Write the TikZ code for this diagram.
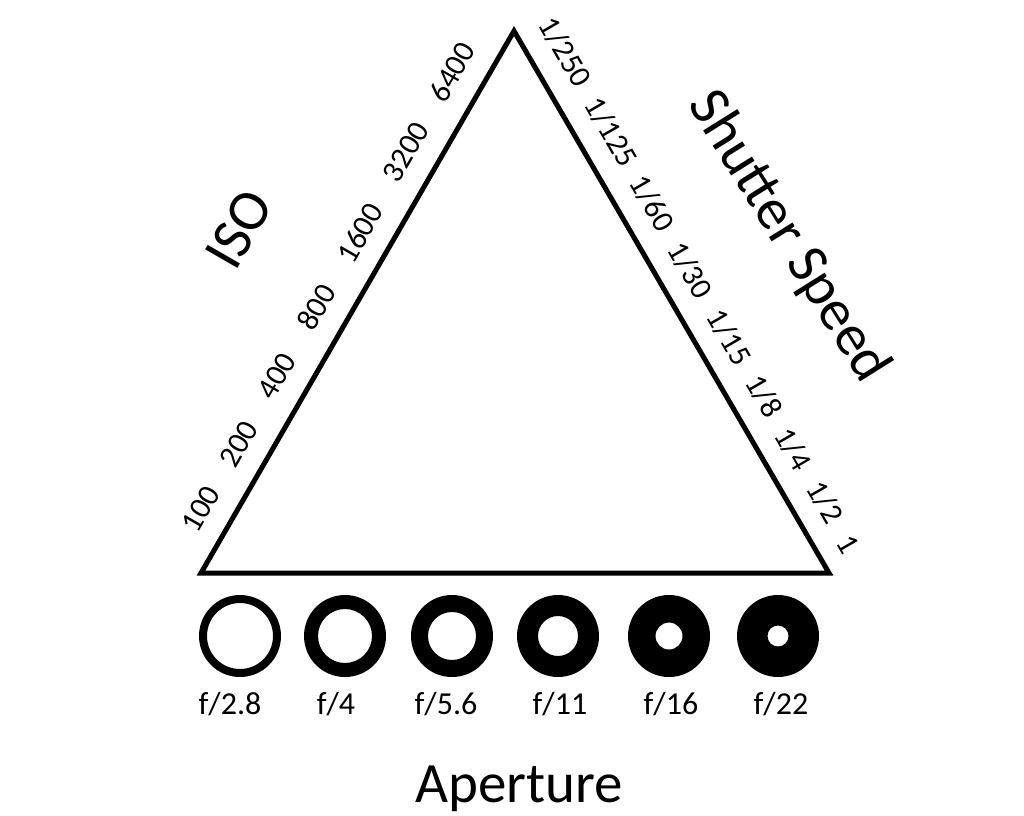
\documentclass[tikz,border=0pt]{standalone}
\usepackage{fontspec}
\setmainfont{Carlito}
\usetikzlibrary{calc}
\begin{document}
\begin{tikzpicture}[x=1pt,y=-1pt,
  edgelbl/.style={font=\fontsize{31}{31}\selectfont, inner sep=0pt, anchor=center},
  biglbl/.style={font=\fontsize{58}{58}\selectfont, inner sep=0pt, anchor=center},
  flbl/.style={font=\fontsize{32}{32}\selectfont, inner sep=0pt, anchor=base},
  tri/.style={line width=5pt, line join=miter, miter limit=10}]
\useasboundingbox[fill=white] (0,0) rectangle (1024,815);
\coordinate (T) at (514,31);
\coordinate (L) at (201,573);
\coordinate (R) at (829,573);
\draw[tri] (L) -- (T) -- (R) -- cycle;
% ISO values
\node[edgelbl, rotate=60] (i100) at (201,509) {100};
\node[edgelbl, rotate=60] (i200) at (239,444) {200};
\node[edgelbl, rotate=60] (i400) at (277,376) {400};
\node[edgelbl, rotate=60] (i800) at (316,307) {800};
\node[edgelbl, rotate=60] (i1600) at (360,233) {1600};
\node[edgelbl, rotate=60] (i3200) at (406,152) {3200};
\node[edgelbl, rotate=60] (i6400) at (452,72) {6400};
% shutter values
\node[edgelbl, rotate=-60] (s250) at (565,52) {1/250};
\node[edgelbl, rotate=-60] (s125) at (611,132) {1/125};
\node[edgelbl, rotate=-60] (s60) at (652,203) {1/60};
\node[edgelbl, rotate=-60] (s30) at (690,270) {1/30};
\node[edgelbl, rotate=-60] (s15) at (729,337) {1/15};
\node[edgelbl, rotate=-60] (s8) at (764,396) {1/8};
\node[edgelbl, rotate=-60] (s4) at (793,449) {1/4};
\node[edgelbl, rotate=-60] (s2) at (825,502) {1/2};
\node[edgelbl, rotate=-60] (s1) at (848,544) {1};
% big labels
\node[biglbl, rotate=60] (iso) at (239,229) {ISO};
\node[biglbl, rotate=-58] (shutter) at (788,237) {Shutter Speed};
\node[font=\fontsize{57}{57}\selectfont, inner sep=0pt, anchor=base] (aperture) at (519,802) {Aperture};
% aperture discs
\foreach \cx/\ri in {240/33, 345/27, 452/24, 558/20, 669/13.5, 778/10.5}{
  \fill[black, even odd rule] (\cx,636) circle (41) (\cx,636) circle (\ri);
}
\node[flbl] (f28) at (230,714) {f/2.8};
\node[flbl] (f4) at (336,714) {f/4};
\node[flbl] (f56) at (446,714) {f/5.6};
\node[flbl] (f11) at (560,714) {f/11};
\node[flbl] (f16) at (671,714) {f/16};
\node[flbl] (f22) at (781,714) {f/22};
\end{tikzpicture}
\end{document}
